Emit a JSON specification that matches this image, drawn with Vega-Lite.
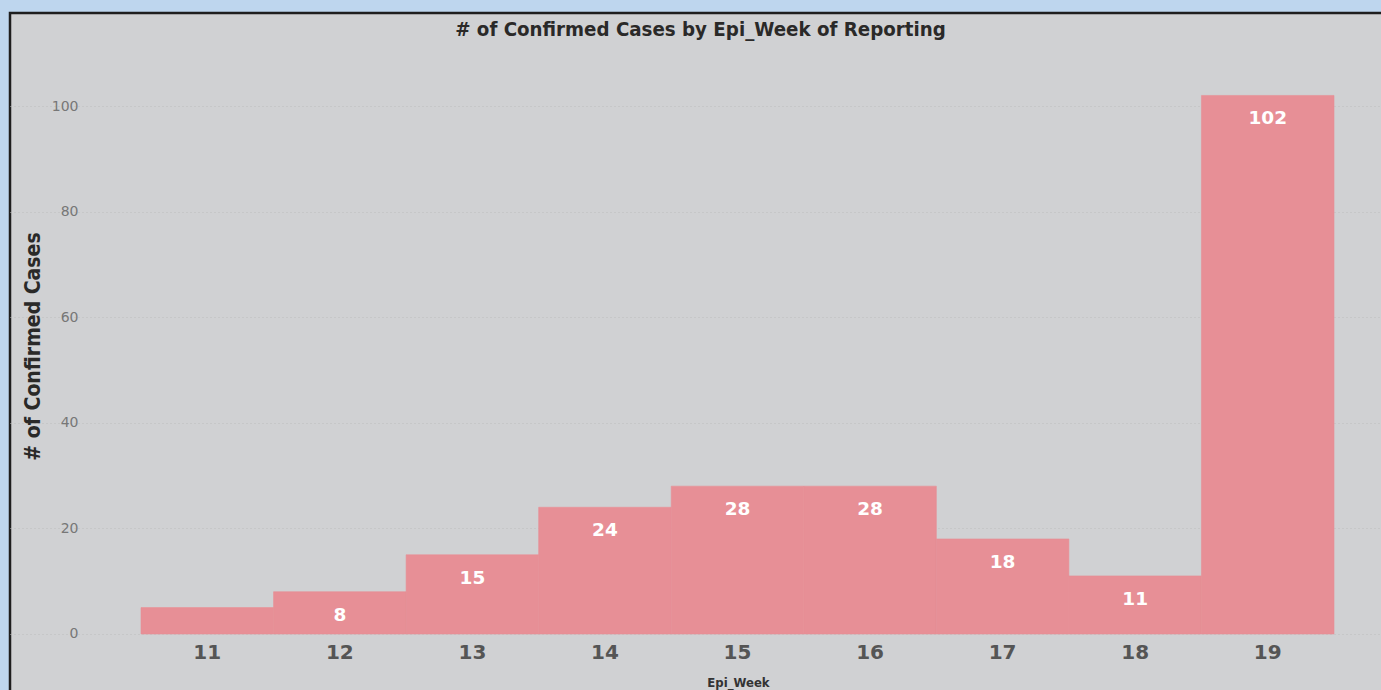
{
  "$schema": "https://vega.github.io/schema/vega-lite/v6.json",
  "width": 1375,
  "height": 681,
  "autosize": {"type": "none"},
  "padding": {"left": 10, "top": 13, "right": 0, "bottom": 0},
  "background": "#bed6ee",
  "view": {"fill": "#d0d1d3", "stroke": "#1e1e1e", "strokeWidth": 2.5},
  "title": {
    "text": "# of Confirmed Cases by Epi_Week of Reporting",
    "font": "DejaVu Sans Condensed",
    "fontSize": 20.3,
    "fontWeight": "bold",
    "color": "#2a2928",
    "anchor": "middle",
    "baseline": "middle",
    "offset": -37,
    "dx": 3
  },
  "data": {
    "values": [
      {"week": "11", "cases": 5},
      {"week": "12", "cases": 8},
      {"week": "13", "cases": 15},
      {"week": "14", "cases": 24},
      {"week": "15", "cases": 28},
      {"week": "16", "cases": 28},
      {"week": "17", "cases": 18},
      {"week": "18", "cases": 11},
      {"week": "19", "cases": 102}
    ]
  },
  "encoding": {
    "x": {
      "field": "week",
      "type": "ordinal",
      "sort": null,
      "scale": {"paddingInner": 0, "paddingOuter": 0.6865, "align": 0.7198},
      "axis": {
        "title": "Epi_Week",
        "orient": "bottom",
        "offset": -60,
        "labelAngle": 0,
        "domain": false,
        "ticks": false,
        "labelFont": "DejaVu Sans",
        "labelFontSize": 20,
        "labelFontWeight": "bold",
        "labelColor": "#555555",
        "labelPadding": 8,
        "titleFont": "DejaVu Sans Condensed",
        "titleFontSize": 13,
        "titleFontWeight": "bold",
        "titleColor": "#333333",
        "titleX": 728,
        "titleY": 52,
        "titleBaseline": "alphabetic"
      }
    },
    "y": {
      "field": "cases",
      "type": "quantitative",
      "scale": {"domain": [-11.364, 117.614], "nice": false, "zero": false},
      "axis": {
        "title": "# of Confirmed Cases",
        "orient": "left",
        "offset": -74,
        "values": [0, 20, 40, 60, 80, 100],
        "domain": false,
        "ticks": false,
        "grid": true,
        "gridColor": "#bdbdbd",
        "gridDash": [1, 3],
        "gridWidth": 1,
        "labelFont": "DejaVu Sans",
        "labelFontSize": 14,
        "labelColor": "#777777",
        "labelPadding": 6,
        "titleFont": "DejaVu Sans Condensed",
        "titleFontSize": 21,
        "titleFontWeight": "bold",
        "titleColor": "#2a2928",
        "titleX": -51,
        "titleY": 333,
        "titleAngle": -90,
        "titleAlign": "center",
        "titleBaseline": "middle"
      }
    }
  },
  "layer": [
    {
      "mark": {"type": "bar", "color": "#e78f96", "stroke": "#e78f96", "strokeWidth": 0.6},
      "encoding": {"y2": {"datum": 0}}
    },
    {
      "transform": [{"filter": "datum.cases > 6"}],
      "mark": {
        "type": "text",
        "color": "#ffffff",
        "font": "DejaVu Sans",
        "fontSize": 18.5,
        "fontWeight": "bold",
        "baseline": "middle",
        "dy": 23
      },
      "encoding": {"text": {"field": "cases", "type": "quantitative"}}
    }
  ]
}
